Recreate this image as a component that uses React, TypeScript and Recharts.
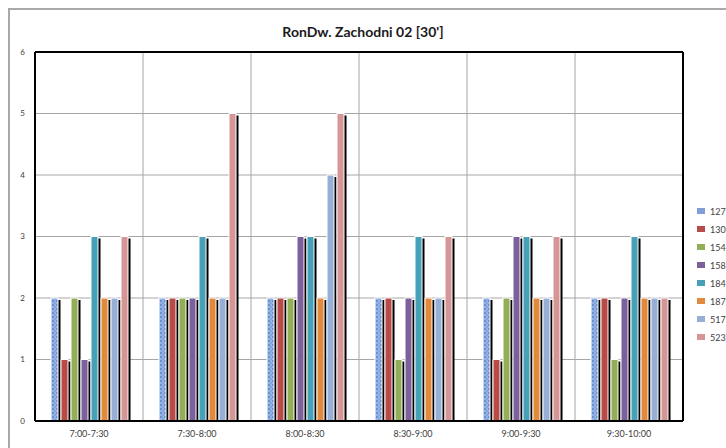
import React from 'react';
import { BarChart, Bar, XAxis, YAxis, CartesianGrid, Legend } from 'recharts';

const FONT = 'Lato, "Open Sans", sans-serif';

const slots = ['7:00-7:30', '7:30-8:00', '8:00-8:30', '8:30-9:00', '9:00-9:30', '9:30-10:00'];
const s127 = [2, 2, 2, 2, 2, 2];
const s130 = [1, 2, 2, 2, 1, 2];
const s154 = [2, 2, 2, 1, 2, 1];
const s158 = [1, 2, 3, 2, 3, 2];
const s184 = [3, 3, 3, 3, 3, 3];
const s187 = [2, 2, 2, 2, 2, 2];
const s517 = [2, 2, 4, 2, 2, 2];
const s523 = [3, 5, 5, 3, 3, 2];
const yTicks = [0, 1, 2, 3, 4, 5, 6];

const series = [
  { key: '127', values: s127, fill: 'url(#dots127)', swatch: '#7F9FD6' },
  { key: '130', values: s130, fill: '#B84A47', swatch: '#B84A47' },
  { key: '154', values: s154, fill: '#93AE55', swatch: '#93AE55' },
  { key: '158', values: s158, fill: '#7B609B', swatch: '#7B609B' },
  { key: '184', values: s184, fill: '#45A0B8', swatch: '#45A0B8' },
  { key: '187', values: s187, fill: '#E2893C', swatch: '#E2893C' },
  { key: '517', values: s517, fill: '#97AED6', swatch: '#97AED6' },
  { key: '523', values: s523, fill: '#D59695', swatch: '#D59695' },
];

const data = slots.map((slot, i) => {
  const row: Record<string, string | number> = { slot };
  series.forEach((s) => {
    row[s.key] = s.values[i];
  });
  return row;
});

// bar with a black drop shadow to the right, like the Excel original
const ShadowBar = (props: any) => {
  const { x, y, width, height, fill } = props;
  if (!height || height <= 0) return null;
  return (
    <g>
      <rect x={x + 2.5} y={y + 2} width={width} height={height - 2} fill="#000" />
      <rect x={x} y={y} width={width} height={height} fill={fill} stroke="#fff" strokeWidth={1} />
    </g>
  );
};

const renderLegend = () => (
  <div style={{ fontFamily: FONT, fontSize: 9, color: '#404040' }}>
    {series.map((s) => (
      <div key={s.key} style={{ display: 'flex', alignItems: 'center', height: 18 }}>
        <span style={{ display: 'inline-block', width: 8, height: 6, background: s.swatch, marginRight: 5 }} />
        <span>{s.key}</span>
      </div>
    ))}
  </div>
);

export default function App() {
  return (
    <div style={{ position: 'absolute', left: 0, top: 0, width: 726, height: 448, overflow: 'hidden', background: '#fff' }}>
      <div
        style={{
          position: 'absolute',
          left: 8,
          top: 8,
          width: 740,
          height: 460,
          border: '2px solid #A9A9A9',
          pointerEvents: 'none',
        }}
      />
      <div
        style={{
          position: 'absolute',
          left: 0,
          top: 23,
          width: 726,
          textAlign: 'center',
          fontFamily: FONT,
          fontWeight: 700,
          fontSize: 14,
          color: '#1a1a1a',
        }}
      >
        RonDw. Zachodni 02 [30']
      </div>
      <BarChart
        width={726}
        height={448}
        data={data}
        margin={{ top: 51, right: 42, bottom: 0, left: 0 }}
        barSize={7}
        barGap={3}
        style={{ position: 'absolute', left: 0, top: 0 }}
      >
        <defs>
          <pattern id="dots127" width="4" height="4" patternUnits="userSpaceOnUse">
            <rect width="4" height="4" fill="#93B3E6" />
            <circle cx="1" cy="1" r="0.9" fill="#5B7FC2" />
            <circle cx="3" cy="3" r="0.7" fill="#6F92D0" />
          </pattern>
        </defs>
        <CartesianGrid
          stroke="#A6A6A6"
          strokeWidth={1}
          verticalCoordinatesGenerator={({ offset }: any) =>
            slots.slice(1).map((_, i) => offset.left + (offset.width * (i + 1)) / slots.length)
          }
        />
        <XAxis
          dataKey="slot"
          height={27}
          tickLine={false}
          tickMargin={4}
          axisLine={{ stroke: '#000', strokeWidth: 2 }}
          tick={{ fontSize: 9, fill: '#404040', fontFamily: FONT }}
        />
        <XAxis xAxisId="top" orientation="top" dataKey="slot" height={1} tick={false} tickLine={false} axisLine={{ stroke: '#000', strokeWidth: 2 }} />
        <YAxis
          width={35}
          domain={[0, 6]}
          ticks={yTicks}
          tickLine={false}
          tickMargin={4}
          axisLine={{ stroke: '#000', strokeWidth: 2 }}
          tick={{ fontSize: 8, fill: '#404040', fontFamily: FONT }}
        />
        <YAxis yAxisId="right" orientation="right" width={1} domain={[0, 6]} tick={false} tickLine={false} axisLine={{ stroke: '#000', strokeWidth: 2 }} />
        <Legend
          layout="vertical"
          align="center"
          verticalAlign="middle"
          content={renderLegend}
          wrapperStyle={{ left: 697, top: 202, width: 29 }}
        />
        {series.map((s) => (
          <Bar key={s.key} dataKey={s.key} fill={s.fill} shape={<ShadowBar />} isAnimationActive={false} />
        ))}
      </BarChart>
    </div>
  );
}
